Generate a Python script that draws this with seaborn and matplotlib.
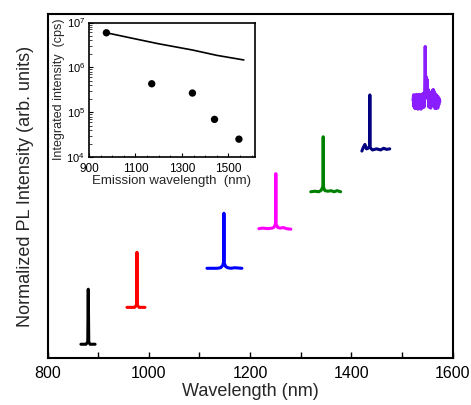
import matplotlib
matplotlib.use("Agg")
import matplotlib.pyplot as plt
import numpy as np
import pandas as pd
import seaborn as sns
from matplotlib.ticker import MultipleLocator, FixedLocator, LogLocator, NullFormatter

sns.set_theme(style="ticks")
plt.rcParams['font.family'] = ['Liberation Sans', 'DejaVu Sans']
plt.rcParams['mathtext.fontset'] = 'custom'
plt.rcParams['mathtext.rm'] = 'Liberation Sans'

# ---- PL spectra (normalized, each stacked with its own offset) ----
series_names = ["880", "977", "1149", "1251", "1345", "1437", "1546"]
series_colors = ["#000000", "#ff0000", "#0000ff", "#ff00ff", "#008000", "#000080", "#8b1eff"]
series_offsets = [0.25, 0.92, 1.63, 2.35, 3.02, 3.78, 4.66]

wl_880 = [866, 876, 879.5, 880.5, 881.5, 884, 894]
pl_880 = [0.0, 0.0, 0.04, 1.0, 0.04, 0.0, 0.0]

wl_977 = [957, 972, 976.0, 976.7, 977.4, 981, 992.5]
pl_977 = [0.0, 0.0, 0.04, 1.0, 0.04, 0.0, 0.0]

wl_1149 = [1115, 1135, 1142, 1146, 1148.0, 1148.5, 1149.0, 1152, 1156, 1162, 1170, 1184]
pl_1149 = [0.0, 0.0, 0.01, 0.05, 0.12, 1.0, 0.10, 0.03, 0.01, 0.0, 0.01, 0.0]

wl_1251 = [1217.5, 1225, 1235, 1244, 1248, 1250.5, 1251.0, 1251.5, 1255, 1260, 1266, 1272, 1280.7]
pl_1251 = [0.0, 0.01, 0.0, 0.01, 0.03, 0.10, 1.0, 0.08, 0.02, 0.01, 0.02, 0.0, -0.01]

wl_1345 = [1320, 1328, 1336, 1341, 1344.0, 1344.6, 1345.2, 1348, 1354, 1360, 1366, 1372, 1379]
pl_1345 = [0.0, 0.01, 0.0, 0.03, 0.10, 1.0, 0.08, 0.02, 0.01, 0.02, 0.0, 0.02, 0.0]

wl_1437 = [1421, 1424, 1427, 1430, 1433, 1436.0, 1436.7, 1437.4, 1442, 1450, 1458, 1464, 1470, 1476]
pl_1437 = [-0.02, 0.05, 0.10, 0.02, 0.03, 0.06, 1.0, 0.04, 0.0, 0.02, 0.0, 0.03, 0.01, 0.02]

wl_1546 = [1522, 1523, 1524, 1525, 1526, 1527, 1528, 1529, 1530, 1531,
           1532, 1533, 1534, 1535, 1536, 1537, 1538, 1539, 1540, 1541,
           1542, 1543, 1544, 1545, 1546, 1547, 1548, 1549, 1550, 1551,
           1552, 1553, 1554, 1555, 1556, 1557, 1558, 1559, 1560, 1561,
           1562, 1563, 1564, 1565, 1566, 1567, 1568, 1569, 1570, 1571,
           1572, 1573, 1574, 1575]
pl_1546 = [0.02, 0.12, -0.10, 0.12, -0.13, 0.10, -0.06, 0.13, -0.12, 0.08,
           -0.14, 0.12, -0.09, 0.13, -0.12, 0.11, -0.14, 0.12, -0.08, 0.14,
           -0.11, 0.15, -0.10, 0.20, 1.00, 0.30, 0.45, 0.18, 0.40, 0.05,
           0.22, -0.10, 0.15, -0.10, 0.13, -0.12, 0.16, -0.08, 0.20, -0.05,
           0.22, 0.02, 0.18, -0.12, 0.14, -0.13, 0.12, -0.10, 0.10, -0.12,
           0.08, -0.06, 0.05, 0.0]

spectra_wl = [wl_880, wl_977, wl_1149, wl_1251, wl_1345, wl_1437, wl_1546]
spectra_pl = [pl_880, pl_977, pl_1149, pl_1251, pl_1345, pl_1437, pl_1546]

# ---- Integrated intensity inset ----
emission_nm = [975, 1170, 1345, 1440, 1545]
integrated_cps = [5.9e6, 4.3e5, 2.67e5, 6.9e4, 2.5e4]
reference_nm = [975, 1100, 1200, 1346, 1450, 1566]
reference_cps = [5.9e6, 4.3e6, 3.35e6, 2.43e6, 1.85e6, 1.46e6]

frames = []
for name, wl, pl, off in zip(series_names, spectra_wl, spectra_pl, series_offsets):
    frames.append(pd.DataFrame({"series": name,
                                "wavelength": wl,
                                "intensity": np.asarray(pl) + off}))
spectra = pd.concat(frames, ignore_index=True)

fig = plt.figure(figsize=(4.71, 4.05), dpi=100)
ax = fig.add_axes([47.5 / 471, 1 - 358 / 405, 405 / 471, 344 / 405])

sns.lineplot(data=spectra, x="wavelength", y="intensity", hue="series",
             palette=dict(zip(series_names, series_colors)),
             estimator=None, sort=False, legend=False, lw=2.2, ax=ax)

ax.set_xlim(800, 1600)
ax.set_ylim(0, 6.25)
ax.xaxis.set_major_locator(MultipleLocator(200))
ax.xaxis.set_minor_locator(MultipleLocator(100))
ax.tick_params(axis="x", which="both", direction="in", length=4, width=1,
               labelsize=11.5, pad=6, colors="black")
ax.set_yticks([])
ax.set_xlabel("Wavelength (nm)", fontsize=13, labelpad=1)
ax.set_ylabel("Normalized PL Intensity (arb. units)", fontsize=13, labelpad=10)
for sp in ax.spines.values():
    sp.set_visible(True)
    sp.set_color("black")
    sp.set_linewidth(1.5)

# ---- inset ----
ins = fig.add_axes([88.5 / 471, 1 - 157 / 405, 166 / 471, 134.5 / 405])
ins.set_facecolor("white")
sns.lineplot(x=reference_nm, y=reference_cps, color="black", lw=1.2,
             estimator=None, sort=False, ax=ins)
sns.scatterplot(x=emission_nm, y=integrated_cps, color="black", s=28,
                edgecolor="none", ax=ins, zorder=3)
ins.set_yscale("log")
ins.set_ylim(1e4, 1e7)
ins.set_xlim(898, 1612)
ins.xaxis.set_major_locator(FixedLocator([900, 1100, 1300, 1500]))
ins.xaxis.set_minor_locator(MultipleLocator(50))
ins.yaxis.set_major_locator(LogLocator(base=10, numticks=10))
ins.yaxis.set_minor_locator(LogLocator(base=10, subs=np.arange(2, 10), numticks=10))
ins.yaxis.set_minor_formatter(NullFormatter())
ins.tick_params(axis="both", which="major", direction="in", length=3, width=0.8,
                colors="black")
ins.tick_params(axis="x", which="major", pad=4.5, labelsize=8.5)
ins.tick_params(axis="y", which="major", pad=2.5, labelsize=8)
ins.tick_params(axis="both", which="minor", direction="in", length=1.8, width=0.6)
ins.set_xlabel("Emission wavelength  (nm)", fontsize=9.5, labelpad=0)
ins.set_ylabel("Integrated intensity  (cps)", fontsize=9, labelpad=1)
for sp in ins.spines.values():
    sp.set_visible(True)
    sp.set_color("black")
    sp.set_linewidth(1.2)

fig.savefig("out.png", dpi=100, facecolor="white")
